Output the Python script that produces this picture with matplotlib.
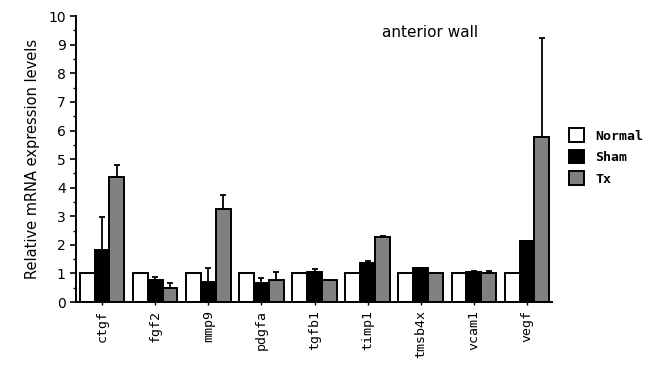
import numpy as np
import matplotlib
matplotlib.use("Agg")
from matplotlib import pyplot as plt
from matplotlib.ticker import MultipleLocator

genes = ["ctgf", "fgf2", "mmp9", "pdgfa", "tgfb1", "timp1", "tmsb4x", "vcam1", "vegf"]
groups = ["Normal", "Sham", "Tx"]

normal = [1.0, 1.0, 1.0, 1.0, 1.0, 1.0, 1.0, 1.0, 1.0]
sham = [1.82, 0.77, 0.70, 0.66, 1.04, 1.36, 1.2, 1.04, 2.15]
tx = [4.37, 0.50, 3.25, 0.77, 0.77, 2.28, 1.0, 1.0, 5.77]

# upper error only
sham_err = [1.15, 0.10, 0.50, 0.17, 0.10, 0.08, 0.0, 0.04, 0.0]
tx_err = [0.43, 0.16, 0.50, 0.29, 0.0, 0.04, 0.0, 0.07, 3.47]

colors = ["white", "black", "#808080"]

fig = plt.figure(figsize=(6.57, 3.67), dpi=100)
ax = fig.add_axes([0.1157, 0.177, 0.7245, 0.779])

x = np.arange(len(genes))
w = 0.28
ekw = dict(ecolor="black", capsize=2.5, elinewidth=1.3, capthick=1.3)

ax.bar(x - w, normal, w, color=colors[0], edgecolor="black", linewidth=1.4, label=groups[0])
ax.bar(x, sham, w, color=colors[1], edgecolor="black", linewidth=1.4, label=groups[1],
       yerr=[np.zeros(len(genes)), sham_err], error_kw=ekw)
ax.bar(x + w, tx, w, color=colors[2], edgecolor="black", linewidth=1.4, label=groups[2],
       yerr=[np.zeros(len(genes)), tx_err], error_kw=ekw)

ax.set_xlim(-0.49, 8.47)
ax.set_ylim(0, 10)
ax.yaxis.set_major_locator(MultipleLocator(1))
ax.yaxis.set_minor_locator(MultipleLocator(0.5))
ax.tick_params(axis="y", which="major", length=4, width=1.2, labelsize=10)
ax.tick_params(axis="y", which="minor", length=2.5, width=1.0)
ax.set_xticks(x)
ax.set_xticklabels(genes, rotation=90, family="DejaVu Sans Mono", fontsize=9.5)
ax.tick_params(axis="x", length=2, width=1)

for s in ["top", "right"]:
    ax.spines[s].set_visible(False)
ax.spines["left"].set_linewidth(1.4)
ax.spines["bottom"].set_linewidth(1.4)

ax.set_ylabel("Relative mRNA expression levels", fontsize=10.5, labelpad=6)
ax.text(0.744, 0.944, "anterior wall", transform=ax.transAxes, ha="center", va="center", fontsize=11)

fig.legend(loc="center left", bbox_to_anchor=(0.848, 0.572), frameon=False,
           prop=dict(family="DejaVu Sans Mono", weight="bold", size=9.5),
           handlelength=1.1, handleheight=1.2, handletextpad=0.9, labelspacing=0.55)

fig.savefig("out.png", dpi=100)
